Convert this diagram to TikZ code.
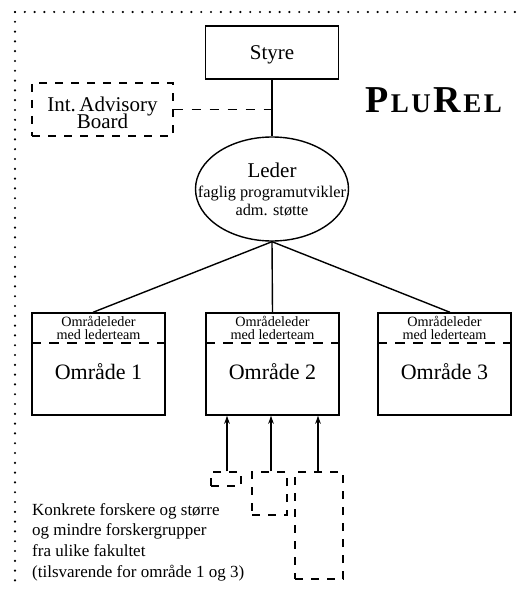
\documentclass[tikz,border=0pt]{standalone}
\usepackage{fontspec}
\setmainfont{Liberation Serif}
\usetikzlibrary{arrows.meta,shapes.geometric}
\tikzset{
  box/.style={draw, line width=1.4pt, inner sep=0pt, minimum width=133pt},
  dbox/.style={draw, line width=1.4pt, inner sep=0pt, dash pattern=on 8pt off 8pt},
  conn/.style={line width=1.4pt},
  dconn/.style={line width=1.4pt, dash pattern=on 9.5pt off 8.5pt},
  arr/.style={line width=1.4pt, -{Stealth[length=8pt,width=5.5pt]}},
  dotline/.style={line width=2.4pt, line cap=round, dash pattern=on 0pt off 9.8pt},
  txt/.style={inner sep=0pt, anchor=base},
}
\begin{document}
\begin{tikzpicture}[x=1pt,y=-1pt]
\useasboundingbox (0,0) rectangle (518,591);
% dotted frame
\draw[dotline] (15,12) -- (518,12);
\draw[dotline] (15,12) -- (15,581);
% Styre
\node[box, minimum height=53pt] (styre) at (272,52.5) {};
\node[txt] (styretxt) at (272,60) {\fontsize{21}{23}\selectfont Styre};
% Int. Advisory Board
\node[dbox, minimum width=141pt, minimum height=53pt] (iab) at (102.5,109.5) {};
\node[txt] (iab1) at (102.5,111) {\fontsize{21}{23}\selectfont Int.\,Advisory};
\node[txt] (iab2) at (102.5,128.5) {\fontsize{21}{23}\selectfont Board};
% PluRel
\node[txt, anchor=base west] (plurel) at (365,113) {\bfseries\fontsize{38}{38}\selectfont P\kern2.5pt{\fontsize{27}{27}\selectfont L\kern2.5pt U}\kern2.5pt R\kern2.5pt{\fontsize{27}{27}\selectfont E\kern2.5pt L}};
% Leder ellipse
\node[ellipse, draw, line width=1.4pt, minimum width=153pt, minimum height=104pt, inner sep=0pt] (leder) at (272,189) {};
\node[txt] (ledertxt) at (272,177.5) {\fontsize{21}{23}\selectfont Leder};
\node[txt] (faglig) at (272,197) {\fontsize{16.3}{18}\selectfont faglig programutvikler};
\node[txt] (adm) at (272,215.5) {\fontsize{16.3}{18}\selectfont adm. støtte};
% connectors top
\draw[conn] (styre.south) -- (leder.north);
\coordinate (junc) at (styre.south |- iab.east);
\draw[dconn] (iab.east) -- (junc);
% Area boxes
\node[box, minimum height=102pt] (a1) at (98.5,364) {};
\node[box, minimum height=102pt] (a2) at (272.5,364) {};
\node[box, minimum height=102pt] (a3) at (444.5,364) {};
\foreach \n/\x in {a1/98.5,a2/272.5,a3/444.5}{
  \draw[dconn] (\n.west |- 0,343) -- (\n.east |- 0,343);
  \node[txt] (\n l1) at (\x,326.5) {\fontsize{14.2}{15}\selectfont Områdeleder};
  \node[txt] (\n l2) at (\x,339) {\fontsize{14.2}{15}\selectfont med lederteam};
}
\node[txt] (o1) at (98.5,379.5) {\fontsize{22}{24}\selectfont Område 1};
\node[txt] (o2) at (272.5,379.5) {\fontsize{22}{24}\selectfont Område 2};
\node[txt] (o3) at (444.5,379.5) {\fontsize{22}{24}\selectfont Område 3};
\draw[conn] (leder.south) -- ([xshift=-5.5pt]a1.north);
\draw[conn] (leder.south) -- (a2.north);
\draw[conn] (leder.south) -- ([xshift=5.5pt]a3.north);
% small dashed groups
\node[dbox, minimum width=30pt, minimum height=14pt] (ga) at (226,479) {};
\node[dbox, minimum width=35pt, minimum height=43pt] (gb) at (269.5,493.5) {};
\node[dbox, minimum width=48pt, minimum height=107pt] (gc) at (319,525.5) {};
\draw[arr] ([xshift=1pt]ga.north) -- ([xshift=1pt]ga.north |- a2.south);
\draw[arr] ([xshift=1.5pt]gb.north) -- ([xshift=1.5pt]gb.north |- a2.south);
\draw[arr] ([xshift=-1pt]gc.north) -- ([xshift=-1pt]gc.north |- a2.south);
% description
\node[txt, anchor=base west, align=left, font=\fontsize{17}{20.6}\selectfont] (desc) at (32,577) {Konkrete forskere og større\\ og mindre forskergrupper\\ fra ulike fakultet\\ (tilsvarende for område 1 og 3)};
\end{tikzpicture}
\end{document}
